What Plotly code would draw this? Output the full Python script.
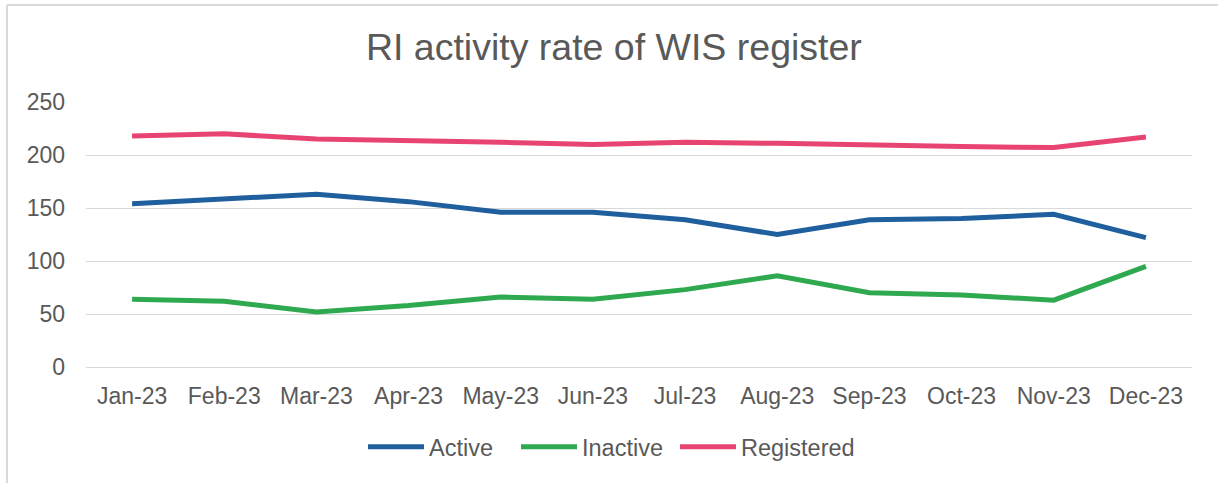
import plotly.graph_objects as go

months = ["Jan-23", "Feb-23", "Mar-23", "Apr-23", "May-23", "Jun-23",
          "Jul-23", "Aug-23", "Sep-23", "Oct-23", "Nov-23", "Dec-23"]
active = [154, 158, 163, 156, 146, 146, 139, 125, 139, 140, 144, 122]
inactive = [64, 62, 52, 58, 66, 64, 73, 86, 70, 68, 63, 95]
registered = [218, 220, 215, 214, 212, 210, 212, 211, 209, 208, 207, 217]
y_ticks = [0, 50, 100, 150, 200, 250]

W, H = 1218, 483
L, R, T, B = 86, 26, 102, 116
pw, ph = W - L - R, H - T - B

def px_x(p):
    return (p - L) / pw

def px_y(p):
    return (H - B - p) / ph

text_col = "#595959"
grid_col = "#d9d9d9"
font = "Liberation Sans, Arial, sans-serif"

series = [("Active", active, "#1f5f9e", "legend", 369),
          ("Inactive", inactive, "#2fa94f", "legend2", 522),
          ("Registered", registered, "#e84471", "legend3", 681)]

fig = go.Figure()
legends = {}
for name, vals, col, leg, lx in series:
    fig.add_trace(go.Scatter(x=months, y=vals, name=name, mode="lines",
                             line=dict(color=col, width=5), legend=leg))
    legends[leg] = dict(orientation="h", x=px_x(lx - 6), xanchor="left",
                        y=px_y(447), yanchor="middle",
                        font=dict(size=23.5, color=text_col, family=font),
                        itemwidth=56, bgcolor="rgba(0,0,0,0)")

fig.update_layout(
    width=W, height=H,
    margin=dict(l=L, r=R, t=T, b=B, pad=0),
    paper_bgcolor="white", plot_bgcolor="white",
    font=dict(family=font, color=text_col, size=23),
    title=dict(text="RI activity rate of WIS register", x=0.504, xref="container",
               xanchor="center", y=1 - 47 / H, yref="container", yanchor="middle",
               font=dict(size=37.5, color=text_col, family=font)),
    xaxis=dict(type="category", range=[-0.5, 11.5], showgrid=False, showline=False,
               zeroline=False, ticks="", tickfont=dict(size=23, color=text_col),
               ticklabelstandoff=13, fixedrange=True),
    yaxis=dict(range=[0, 250], tickvals=y_ticks, showgrid=True, gridcolor=grid_col,
               gridwidth=1.3, zeroline=True, zerolinecolor=grid_col, zerolinewidth=1.3,
               showline=False, ticks="", tickfont=dict(size=23, color=text_col),
               ticklabelstandoff=20, fixedrange=True),
    showlegend=True,
    **legends,
)

# chart-area border (top and left edges visible in the reference)
fig.add_shape(type="line", xref="paper", yref="paper",
              x0=px_x(7), x1=px_x(W + 5), y0=px_y(5), y1=px_y(5),
              line=dict(color=grid_col, width=2))
fig.add_shape(type="line", xref="paper", yref="paper",
              x0=px_x(7), x1=px_x(7), y0=px_y(5), y1=px_y(H + 5),
              line=dict(color=grid_col, width=2))

fig.write_html("out.html", config={"displayModeBar": False},
               post_script="document.body.style.margin='0';")
